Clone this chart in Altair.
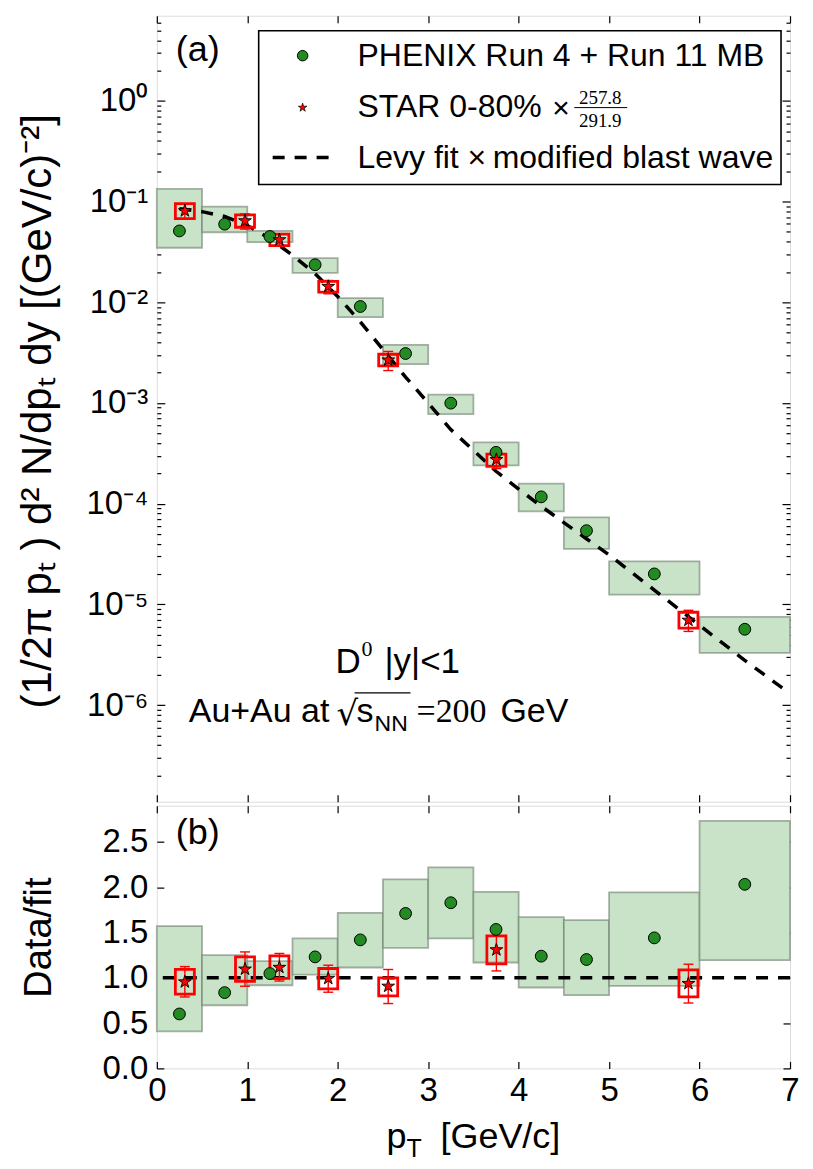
import altair as alt
import pandas as pd

# ---------------- data ----------------
phenix_x = [0.25, 0.75, 1.25, 1.75, 2.25, 2.75, 3.25, 3.75, 4.25, 4.75, 5.5, 6.5]
phenix_bin_lo = [0, 0.5, 1, 1.5, 2, 2.5, 3, 3.5, 4, 4.5, 5, 6]
phenix_bin_hi = [0.5, 1, 1.5, 2, 2.5, 3, 3.5, 4, 4.5, 5, 6, 7]
phenix_y = [0.0511, 0.0596, 0.0450, 0.0236, 0.00908, 0.00310, 0.000997,
            0.000324, 0.000117, 0.0000540, 0.0000201, 0.00000567]
phenix_sys_lo = [0.0348, 0.0496, 0.0395, 0.0196, 0.00711, 0.00243, 0.000776,
                 0.000240, 0.0000841, 0.0000356, 0.0000125, 0.0000033]
phenix_sys_hi = [0.1336, 0.0892, 0.0511, 0.0274, 0.0110, 0.00378, 0.00121,
                 0.000406, 0.000158, 0.0000733, 0.0000268, 0.00000752]
phenix_ratio = [0.601, 0.837, 1.047, 1.231, 1.419, 1.711, 1.829, 1.534, 1.239, 1.202, 1.441, 2.032]
phenix_ratio_lo = [0.409, 0.697, 0.918, 1.036, 1.114, 1.331, 1.435, 1.169, 0.893, 0.808, 0.910, 1.195]
phenix_ratio_hi = [1.571, 1.250, 1.184, 1.435, 1.718, 2.087, 2.220, 1.950, 1.670, 1.637, 1.944, 2.732]

star_x = [0.31, 0.975, 1.355, 1.895, 2.558, 3.754, 5.877]
star_y = [0.0809, 0.0644, 0.0417, 0.01435, 0.00267, 0.000274, 0.00000697]
star_sys_lo = [0.0678, 0.0556, 0.0366, 0.0126, 0.00234, 0.000235, 0.00000581]
star_sys_hi = [0.0955, 0.0738, 0.0474, 0.0161, 0.00305, 0.000311, 0.00000837]
star_err_lo = [0.0668, 0.0533, 0.0361, 0.01215, 0.00210, 0.000223, 0.0000054]
star_err_hi = [0.0952, 0.0755, 0.0475, 0.01646, 0.00325, 0.000323, 0.00000875]
star_ratio = [0.955, 1.096, 1.115, 0.993, 0.907, 1.309, 0.937]
star_ratio_sys_lo = [0.819, 0.962, 0.993, 0.877, 0.800, 1.154, 0.789]
star_ratio_sys_hi = [1.093, 1.231, 1.242, 1.103, 1.000, 1.464, 1.087]
star_ratio_err_lo = [0.789, 0.907, 0.965, 0.841, 0.716, 1.076, 0.722]
star_ratio_err_hi = [1.124, 1.286, 1.269, 1.139, 1.092, 1.545, 1.150]
STAR_BOX_HALF = 0.105
STAR_CAP_HALF = 0.055

fit_x = [0.25, 0.5, 0.75, 1.0, 1.25, 1.5, 1.75, 2.0, 2.25, 2.5, 2.75, 3.0,
         3.25, 3.5, 3.75, 4.0, 4.25, 4.5, 4.75, 5.0, 5.5, 6.0, 6.5, 7.0]
fit_y = [0.0850, 0.0794, 0.0712, 0.0578, 0.0430, 0.0293, 0.0192, 0.0114,
         0.0064, 0.00340, 0.00181, 0.00100, 0.000545, 0.000339, 0.000210,
         0.000140, 0.0000944, 0.0000650, 0.0000449, 0.0000310, 0.0000139,
         0.0000062, 0.00000279, 0.0000013]

x_ticks = [0, 1, 2, 3, 4, 5, 6, 7]
top_major = [1e-6, 1e-5, 1e-4, 1e-3, 1e-2, 1e-1, 1e0]
top_minor = [k * 10.0 ** e for e in range(-7, 1) for k in range(2, 10) if 1.1e-7 < k * 10.0 ** e < 7]
bot_ticks = [0.0, 0.5, 1.0, 1.5, 2.0, 2.5]

legend_labels = ["PHENIX Run 4 + Run 11 MB", "STAR 0-80%", "Levy fit \u00d7\u2009modified blast wave"]
top_ytitle = "(1/2\u03c0 p\u209c )   d\u00b2 N/dp\u209c  dy   [(GeV/c)\u207b\u00b2]"
bot_ytitle = "Data/fit"

# ---------------- frames ----------------
phenix = pd.DataFrame(dict(x=phenix_x, xlo=phenix_bin_lo, xhi=phenix_bin_hi, y=phenix_y,
                           lo=phenix_sys_lo, hi=phenix_sys_hi, r=phenix_ratio,
                           rlo=phenix_ratio_lo, rhi=phenix_ratio_hi))
star = pd.DataFrame(dict(x=star_x, y=star_y, slo=star_sys_lo, shi=star_sys_hi,
                         elo=star_err_lo, ehi=star_err_hi, r=star_ratio,
                         rslo=star_ratio_sys_lo, rshi=star_ratio_sys_hi,
                         relo=star_ratio_err_lo, rehi=star_ratio_err_hi))
star["bxlo"] = star["x"] - STAR_BOX_HALF
star["bxhi"] = star["x"] + STAR_BOX_HALF
star["cxlo"] = star["x"] - STAR_CAP_HALF
star["cxhi"] = star["x"] + STAR_CAP_HALF
fit = pd.DataFrame(dict(x=fit_x, y=fit_y))
one = pd.DataFrame({"k": [0]})

# ---------------- styling ----------------
FONT = "Liberation Sans"
SERIF = "Liberation Serif"
W, H_TOP, H_BOT = 634, 787, 263
GREEN_FILL = "#c8e3c8"
GREEN_EDGE = "#6f7f6f"
STAR_PATH = ("M0,-1L0.2245,-0.309L0.951,-0.309L0.363,0.118L0.588,0.809L0,0.382"
             "L-0.588,0.809L-0.363,0.118L-0.951,-0.309L-0.2245,-0.309Z")

xs = alt.Scale(domain=[0, 7], nice=False, zero=False)
ys_top = alt.Scale(type="log", domain=[1.1e-7, 7], nice=False)
ys_bot = alt.Scale(domain=[0, 2.9], nice=False, zero=False)


def tick_axis(orient, values, size, labels=False, **kw):
    return alt.Axis(orient=orient, values=values, tickSize=size, offset=-size,
                    domain=False, grid=False, labels=labels, ticks=True,
                    tickColor="black", tickWidth=1.2, labelFlush=False, **kw)


LABEL_KW = dict(labelFont=FONT, labelFontSize=33, labelColor="black")
TITLE_KW = dict(titleFont=FONT, titleFontWeight="normal", titleColor="black",
                titleAngle=270, titleAlign="center", titleBaseline="middle")


def axis_layer(yscale, xaxis, yaxis):
    return alt.Chart(one).mark_point(opacity=0).encode(
        x=alt.X(datum=1, type="quantitative", scale=xs, axis=xaxis),
        y=alt.Y(datum=1, type="quantitative", scale=yscale, axis=yaxis))


def txt(s, x, y, size, font=FONT, align="left", baseline="alphabetic"):
    return alt.Chart(one).mark_text(text=s, font=font, fontSize=size, align=align,
                                    baseline=baseline, color="black").encode(
        x=alt.value(x), y=alt.value(y))


def Xq(f):
    return alt.X(f, type="quantitative", scale=xs, axis=None, title=None)


def panel_layers(yscale, ylo, yhi, yc, sxlo, sxhi, slo, shi, elo, ehi, sy):
    boxes = alt.Chart(phenix).mark_rect(fill=GREEN_FILL, stroke=GREEN_EDGE, strokeOpacity=0.6,
                                        strokeWidth=1.8).encode(
        x=Xq("xlo"), x2="xhi",
        y=alt.Y(ylo, type="quantitative", scale=yscale, axis=None, title=None), y2=yhi)
    sbox = alt.Chart(star).mark_rect(fillOpacity=0, stroke="red", strokeWidth=2.8).encode(
        x=Xq(sxlo), x2=sxhi,
        y=alt.Y(slo, type="quantitative", scale=yscale, axis=None, title=None), y2=shi)
    serr = alt.Chart(star).mark_rule(color="red", strokeWidth=1.4).encode(
        x=Xq("x"), y=alt.Y(elo, type="quantitative", scale=yscale, axis=None, title=None), y2=ehi)
    cap_lo = alt.Chart(star).mark_rule(color="red", strokeWidth=1.4).encode(
        x=Xq("cxlo"), x2="cxhi", y=alt.Y(elo, type="quantitative", scale=yscale, axis=None, title=None))
    cap_hi = alt.Chart(star).mark_rule(color="red", strokeWidth=1.4).encode(
        x=Xq("cxlo"), x2="cxhi", y=alt.Y(ehi, type="quantitative", scale=yscale, axis=None, title=None))
    circ = alt.Chart(phenix).mark_point(shape="circle", filled=True, fill="#228b22", stroke="black",
                                        strokeWidth=1, size=140, opacity=1).encode(
        x=Xq("x"), y=alt.Y(yc, type="quantitative", scale=yscale, axis=None, title=None))
    stars = alt.Chart(star).mark_point(shape=STAR_PATH, filled=True, fill="red", stroke="black",
                                       strokeWidth=0.9, size=180, opacity=1).encode(
        x=Xq("x"), y=alt.Y(sy, type="quantitative", scale=yscale, axis=None, title=None))
    return boxes, sbox, serr, cap_lo, cap_hi, circ, stars


# ---------------- top panel ----------------
t_boxes, t_sbox, t_serr, t_clo, t_chi, t_circ, t_stars = panel_layers(
    ys_top, "lo", "hi", "y", "bxlo", "bxhi", "slo", "shi", "elo", "ehi", "y")

fit_line = alt.Chart(fit).mark_line(color="black", strokeWidth=3.5, strokeDash=[12, 10]).encode(
    x=Xq("x"), y=alt.Y("y", type="quantitative", scale=ys_top, axis=None, title=None))

sup_expr = ("'10' + (datum.value < 0.5 ? '\u207b' : '') + "
            "['\u2070','\u00b9','\u00b2','\u00b3','\u2074','\u2075','\u2076','\u2077']"
            "[round(abs(log(datum.value)/LN10))]")

top_axes = [
    axis_layer(ys_top, tick_axis("top", x_ticks, 7),
               tick_axis("left", top_major, 8, labels=True, labelPadding=9, labelExpr=sup_expr,
                         title=top_ytitle, titleX=-127, titleY=H_TOP / 2 + 2, titleFontSize=42,
                         **LABEL_KW, **TITLE_KW)),
    axis_layer(ys_top, tick_axis("bottom", x_ticks, 7), tick_axis("left", top_minor, 4)),
    axis_layer(ys_top, None, tick_axis("right", top_major, 8)),
    axis_layer(ys_top, None, tick_axis("right", top_minor, 4)),
]

legend_frame = alt.Chart(one).mark_rect(fill="white", stroke="black", strokeWidth=1.6).encode(
    x=alt.value(102), x2=alt.value(625), y=alt.value(15), y2=alt.value(169))
leg_circle = alt.Chart(one).mark_point(shape="circle", filled=True, fill="#228b22", stroke="black",
                                       strokeWidth=1, size=110, opacity=1).encode(
    x=alt.value(146), y=alt.value(40))
leg_star = alt.Chart(one).mark_point(shape=STAR_PATH, filled=True, fill="red", stroke="black",
                                     strokeWidth=0.7, size=80, opacity=1).encode(
    x=alt.value(146), y=alt.value(92))
leg_line = alt.Chart(one).mark_rule(color="black", strokeWidth=3.5, strokeDash=[12, 10]).encode(
    x=alt.value(116), x2=alt.value(178), y=alt.value(142))
frac_bar = alt.Chart(one).mark_rule(color="black", strokeWidth=1).encode(
    x=alt.value(418), x2=alt.value(471), y=alt.value(92))

top_texts = [
    txt("(a)", 19, 45, 36),
    txt(legend_labels[0], 201, 40, 32, baseline="middle"),
    txt(legend_labels[1], 201, 91, 32, baseline="middle"),
    txt("\u00d7", 396, 93, 30, baseline="middle"),
    txt("257.8", 444, 88, 19, font=SERIF, align="center"),
    txt("291.9", 444, 111, 19, font=SERIF, align="center"),
    txt(legend_labels[2], 201, 142, 32, baseline="middle"),
    txt("D", 179, 658, 35),
    txt("0", 205, 641, 22, font=SERIF),
    txt("|y|<1", 228, 658, 35),
    txt("Au+Au at", 32, 707, 34),
    txt("\u221a", 180, 710, 34, font="DejaVu Sans"),
    txt("s", 200, 707, 34),
    txt("NN", 218, 716, 23),
    txt("=200", 260, 707, 34, font=SERIF),
    txt("GeV", 344, 707, 34),
]
sqrt_bar = alt.Chart(one).mark_rule(color="black", strokeWidth=1.3).encode(
    x=alt.value(198), x2=alt.value(254), y=alt.value(678))

top = alt.layer(
    t_boxes, fit_line, t_sbox, t_serr, t_clo, t_chi, t_circ, t_stars,
    *top_axes, legend_frame, leg_circle, leg_star, leg_line, frac_bar, sqrt_bar, *top_texts
).resolve_axis(x="independent", y="independent").properties(width=W, height=H_TOP)

# ---------------- bottom panel ----------------
b_boxes, b_sbox, b_serr, b_clo, b_chi, b_circ, b_stars = panel_layers(
    ys_bot, "rlo", "rhi", "r", "bxlo", "bxhi", "rslo", "rshi", "relo", "rehi", "r")

unity = alt.Chart(one).mark_rule(color="black", strokeWidth=3.5, strokeDash=[12, 10]).encode(
    y=alt.Y(datum=1, type="quantitative", scale=ys_bot, axis=None, title=None))

bot_axes = [
    axis_layer(ys_bot, tick_axis("bottom", x_ticks, 7, labels=True, labelPadding=6, **LABEL_KW),
               tick_axis("left", bot_ticks, 7, labels=True, labelPadding=9, format=".1f",
                         title=bot_ytitle, titleX=-124, titleY=H_BOT / 2, titleFontSize=38,
                         **LABEL_KW, **TITLE_KW)),
    axis_layer(ys_bot, tick_axis("top", x_ticks, 7), tick_axis("right", bot_ticks, 7)),
]

bot_texts = [
    txt("(b)", 19, 38, 36),
    txt("p", 230, 343, 36),
    txt("T", 250, 352, 25),
    txt("[GeV/c]", 284, 343, 36),
]

bottom = alt.layer(
    b_boxes, unity, b_sbox, b_serr, b_clo, b_chi, b_circ, b_stars, *bot_axes, *bot_texts
).resolve_axis(x="independent", y="independent").properties(width=W, height=H_BOT)

chart = alt.vconcat(top, bottom, spacing=0).properties(
    padding={"left": 8, "top": 5, "right": 5, "bottom": 5}
).configure_view(stroke="black", strokeWidth=2).configure(background="white")

chart.save("out.html", embed_options={"renderer": "svg", "actions": False})
